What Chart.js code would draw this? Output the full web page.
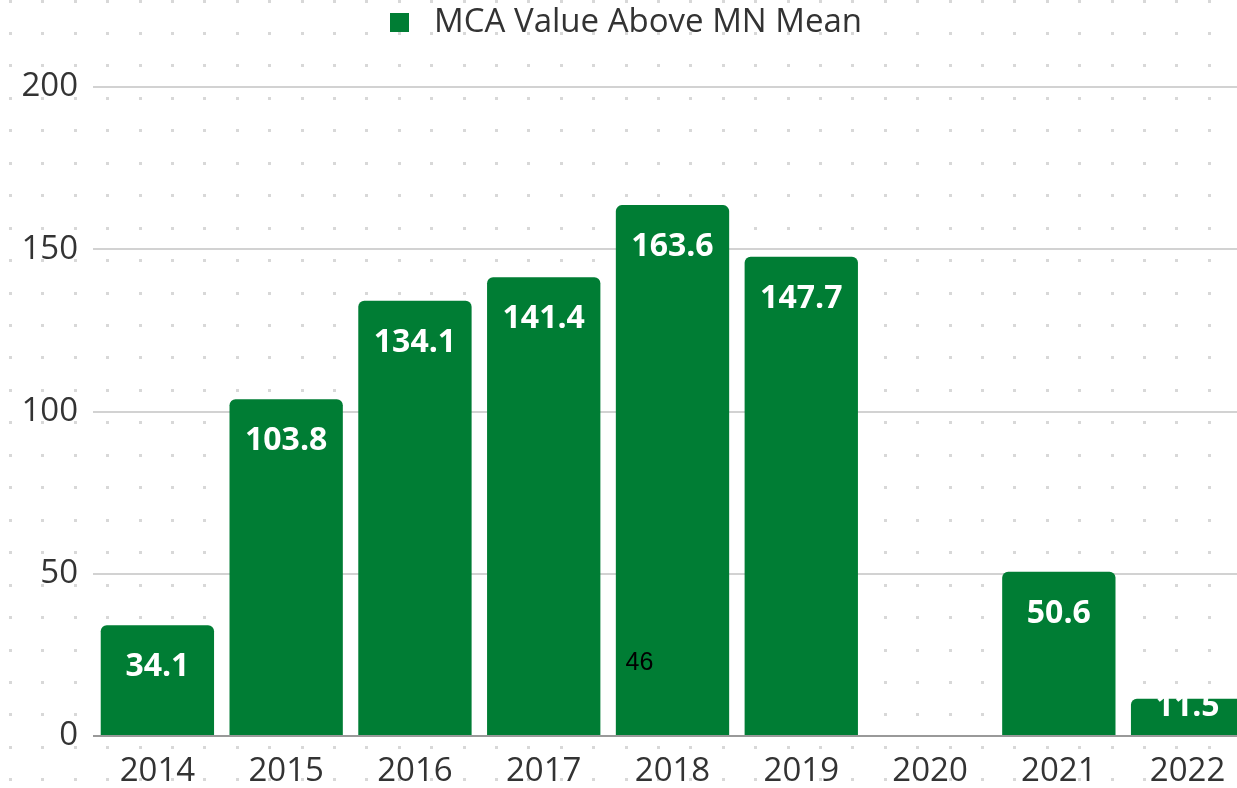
<!DOCTYPE html>
<html>
<head>
<meta charset="utf-8">
<script src="https://cdn.jsdelivr.net/npm/chart.js@4.4.1/dist/chart.umd.min.js"></script>
<style>
  html, body { margin: 0; padding: 0; background: #fff; overflow: hidden; }
  #wrap { position: absolute; left: 0; top: 0; width: 1252px; height: 788px; }
</style>
</head>
<body>
<div id="wrap"><canvas id="chart"></canvas></div>
<script>
// Data
const years = ['2014', '2015', '2016', '2017', '2018', '2019', '2020', '2021', '2022'];
const valuesAboveMean = [34.1, 103.8, 134.1, 141.4, 163.6, 147.7, null, 50.6, 11.5];
const yTicks = [0, 50, 100, 150, 200];
const seriesName = 'MCA Value Above MN Mean';
const strayNote = '46';

const GREEN = '#007d34';
const FONT = "'Open Sans', sans-serif";

// Dotted background
const dotBackground = {
    id: 'dotBackground',
    beforeDraw(chart) {
        const ctx = chart.ctx;
        ctx.save();
        ctx.fillStyle = '#d8d8d8';
        for (let y = 0.5; y < chart.height; y += 32.45) {
            for (let x = 10; x < chart.width; x += 32.4) {
                ctx.fillRect(Math.round(x) - 1, Math.round(y) - 1, 3, 3);
            }
        }
        ctx.restore();
    }
};

// Extra room under the legend
const legendGap = {
    id: 'legendGap',
    beforeInit(chart) {
        const fit = chart.legend.fit;
        chart.legend.fit = function () {
            fit.call(this);
            this.height += 38;
        };
    }
};

// White labels inside the bars
const barLabels = {
    id: 'barLabels',
    afterDatasetsDraw(chart) {
        const ctx = chart.ctx;
        const meta = chart.getDatasetMeta(0);
        const base = chart.scales.y.getPixelForValue(0);
        ctx.save();
        ctx.font = "bold 32px " + FONT;
        ctx.fillStyle = '#ffffff';
        ctx.textAlign = 'center';
        ctx.textBaseline = 'middle';
        meta.data.forEach((bar, i) => {
            const v = valuesAboveMean[i];
            if (v === null) return;
            const y = Math.min(bar.y + 42, base - 29);
            ctx.fillText(v.toFixed(1), bar.x, y);
        });
        // stray number sitting on the 2018 bar
        const b = meta.data[years.indexOf('2018')];
        ctx.font = "25px 'Liberation Sans', Arial, sans-serif";
        ctx.fillStyle = '#000000';
        ctx.textAlign = 'left';
        ctx.fillText(strayNote, b.x - 47, 663);
        ctx.restore();
    }
};

const ctx = document.getElementById('chart').getContext('2d');
new Chart(ctx, {
    type: 'bar',
    data: {
        labels: years,
        datasets: [{
            label: seriesName,
            data: valuesAboveMean,
            backgroundColor: GREEN,
            borderRadius: 6,
            borderSkipped: 'start',
            categoryPercentage: 0.88,
            barPercentage: 1.0
        }]
    },
    options: {
        responsive: true,
        maintainAspectRatio: false,
        animation: false,
        layout: { padding: 0 },
        plugins: {
            legend: {
                position: 'top',
                labels: {
                    boxWidth: 19,
                    boxHeight: 19,
                    padding: 6,
                    color: '#333',
                    font: { size: 33, family: FONT },
                    generateLabels(chart) {
                        const items = Chart.defaults.plugins.legend.labels.generateLabels(chart);
                        items.forEach(it => { it.text = ' ' + it.text; it.lineWidth = 0; });
                        return items;
                    }
                }
            },
            tooltip: { enabled: false }
        },
        scales: {
            x: {
                grid: { display: false, drawTicks: false },
                border: { display: false },
                ticks: {
                    color: '#333',
                    padding: 16,
                    font: { size: 33, family: FONT }
                },
                afterFit(scale) { scale.height = 52; }
            },
            y: {
                min: 0,
                max: 200,
                afterBuildTicks(scale) { scale.ticks = yTicks.map(v => ({ value: v })); },
                grid: {
                    drawTicks: false,
                    lineWidth: 2,
                    color: c => c.tick.value === 0 ? '#999999' : '#d2d2d2'
                },
                border: { display: false },
                ticks: {
                    color: '#333',
                    padding: 15,
                    font: { size: 33, family: FONT }
                },
                afterFit(scale) { scale.width = 93; }
            }
        }
    },
    plugins: [dotBackground, legendGap, barLabels]
});
</script>
</body>
</html>
